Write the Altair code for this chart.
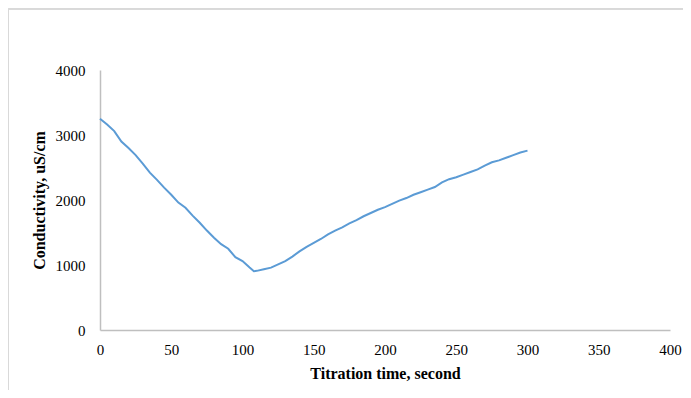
import altair as alt
import pandas as pd

time_s = [0, 5, 10, 15, 20, 25, 30, 35, 40, 45, 50, 55, 60, 65, 70, 75, 80, 85, 90, 95,
          100, 105, 108, 110, 115, 120, 125, 130, 135, 140, 145, 150, 155, 160, 165, 170,
          175, 180, 185, 190, 195, 200, 205, 210, 215, 220, 225, 230, 235, 240, 245, 250,
          255, 260, 265, 270, 275, 280, 285, 290, 295, 300]
conductivity = [3250, 3160, 3060, 2900, 2800, 2690, 2560, 2420, 2310, 2190, 2080, 1960,
                1880, 1760, 1650, 1530, 1420, 1320, 1250, 1120, 1060, 960, 905, 910, 935,
                960, 1010, 1060, 1130, 1210, 1280, 1340, 1400, 1470, 1530, 1580, 1640,
                1690, 1750, 1800, 1850, 1890, 1940, 1990, 2030, 2080, 2120, 2160, 2200,
                2270, 2320, 2350, 2390, 2430, 2470, 2530, 2580, 2610, 2650, 2690, 2730, 2760]

x_ticks = [0, 50, 100, 150, 200, 250, 300, 350, 400]
y_ticks = [0, 1000, 2000, 3000, 4000]

df = pd.DataFrame({"t": time_s, "c": conductivity})

FONT = "Liberation Serif"

line = alt.Chart(df).mark_line(color="#5b9bd5", strokeWidth=2).encode(
    x=alt.X("t:Q", scale=alt.Scale(domain=[0, 400], nice=False),
            axis=alt.Axis(values=x_ticks, title="Titration time, second", grid=False,
                          ticks=False, domainColor="#bfbfbf", labelPadding=12,
                          titlePadding=8, format="d", labelFlush=False)),
    y=alt.Y("c:Q", scale=alt.Scale(domain=[0, 4000], nice=False),
            axis=alt.Axis(values=y_ticks, title="Conductivity, uS/cm", grid=False,
                          ticks=False, domainColor="#bfbfbf", labelPadding=15,
                          titlePadding=8, format="d", labelFlush=False)),
)

frame_top = alt.Chart(df).mark_rule(color="#d9d9d9", strokeWidth=1).encode(
    x=alt.value(-91.5), x2=alt.value(600), y=alt.value(-61)
)
frame_left = alt.Chart(df).mark_rule(color="#d9d9d9", strokeWidth=1).encode(
    x=alt.value(-91.5), y=alt.value(-61), y2=alt.value(400)
)

chart = alt.layer(frame_top, frame_left, line).properties(
    width=570, height=260,
    autosize=alt.AutoSizeParams(type="none"),
    padding={"left": 92, "top": 62, "right": 13, "bottom": 60},
).configure_view(stroke=None).configure_axis(
    labelFont=FONT, titleFont=FONT, labelFontSize=15, titleFontSize=16,
    labelColor="#000000", titleColor="#000000", titleFontWeight="bold",
    domainWidth=1.5,
)

chart.save("out.html", embed_options={"renderer": "svg", "actions": False})
